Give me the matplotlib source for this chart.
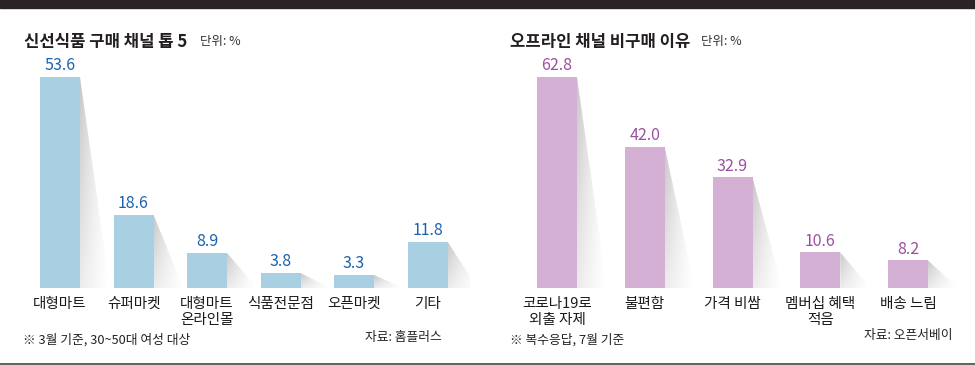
import matplotlib
matplotlib.use("Agg")
import matplotlib.pyplot as plt
import numpy as np
from matplotlib.patches import Polygon

plt.rcParams['font.family'] = ['Noto Sans CJK KR', 'DejaVu Sans']

left_title = "신선식품 구매 채널 톱 5"
left_cats = ["대형마트", "슈퍼마켓", "대형마트\n온라인몰", "식품전문점", "오픈마켓", "기타"]
left_vals = [53.6, 18.6, 8.9, 3.8, 3.3, 11.8]
left_note = "※ 3월 기준, 30~50대 여성 대상"
left_src = "자료: 홈플러스"

right_title = "오프라인 채널 비구매 이유"
right_cats = ["코로나19로\n외출 자제", "불편함", "가격 비쌈", "멤버십 혜택\n적음", "배송 느림"]
right_vals = [62.8, 42.0, 32.9, 10.6, 8.2]
right_note = "※ 복수응답, 7월 기준"
right_src = "자료: 오픈서베이"
unit = "단위: %"

W, H = 975, 365
fig = plt.figure(figsize=(W / 100, H / 100), dpi=100)

def fx(px): return px / W
def fy(py): return 1 - py / H

# top black band and bottom rule
fig.patches.append(plt.Rectangle((0, fy(8)), 1, 8 / H, transform=fig.transFigure, color="#2a2325"))
fig.lines.append(plt.Line2D([0, 1], [fy(363.5)] * 2, transform=fig.transFigure, color="#555555", lw=1.3))

def shadow(ax, xr, top, d):
    poly = Polygon([(xr, top), (xr + d, 0), (xr, 0)], closed=True, transform=ax.transData,
                   facecolor="none", edgecolor="none")
    u = np.linspace(0, 1, 64)
    v = np.linspace(0, 1, 64)
    U, V = np.meshgrid(u, v)
    a = 0.45 * (1 - U) ** 1.2 * (0.35 + 0.65 * V)
    img = np.zeros((64, 64, 4))
    img[..., :3] = 0.52
    img[..., 3] = a
    im = ax.imshow(img, extent=[xr, xr + d, top, 0], aspect="auto", interpolation="bilinear", zorder=1)
    im.set_clip_path(poly)

def panel(x0, x1, c0, step, vmax, cats, vals, bar_c, lab_c):
    top_px, base_px = 60, 288
    ax = fig.add_axes([fx(x0), fy(base_px), fx(x1 - x0), (base_px - top_px) / H])
    scale = (base_px - 77) / vmax
    x = np.arange(len(vals))
    w = 40 / step
    d = 30 / step
    for i, v in enumerate(vals):
        shadow(ax, i + w / 2, v, d)
    ax.bar(x, vals, width=w, color=bar_c, zorder=2)
    for i, v in enumerate(vals):
        ax.annotate(f"{v:.1f}", (i, v), xytext=(0, 2), textcoords="offset points",
                    ha="center", va="bottom", color=lab_c, fontsize=11.5, annotation_clip=False)
    for i, c in enumerate(cats):
        ax.annotate(c, (i, 0), xytext=(0, -6.5), textcoords="offset points", ha="center", va="top",
                    fontsize=10.5, fontweight="medium", color="#1a1a1a", linespacing=1.15,
                    annotation_clip=False)
    ax.set_xlim((x0 - c0) / step, (x1 - c0) / step)
    ax.set_ylim(0, (base_px - top_px) / scale)
    ax.axis("off")
    return ax

panel(20, 470, 60, 73.5, 53.6, left_cats, left_vals, "#a9cfe3", "#1c62ae")
panel(500, 965, 557, 87.75, 62.8, right_cats, right_vals, "#d3b0d4", "#9b4f9d")

fig.text(fx(24), fy(42), left_title, fontsize=12, fontweight="bold", va="center", color="#231f20")
fig.text(fx(200), fy(42), unit, fontsize=9, va="center", color="#333333")
fig.text(fx(510), fy(42), right_title, fontsize=12, fontweight="bold", va="center", color="#231f20")
fig.text(fx(701), fy(42), unit, fontsize=9, va="center", color="#333333")

fig.text(fx(23), fy(340), left_note, fontsize=9.2, va="center", color="#222222")
fig.text(fx(442), fy(337), left_src, fontsize=9.2, va="center", ha="right", color="#222222")
fig.text(fx(510), fy(340), right_note, fontsize=9.2, va="center", color="#222222")
fig.text(fx(952), fy(336), right_src, fontsize=9.2, va="center", ha="right", color="#222222")

fig.savefig("out.png", dpi=100)
